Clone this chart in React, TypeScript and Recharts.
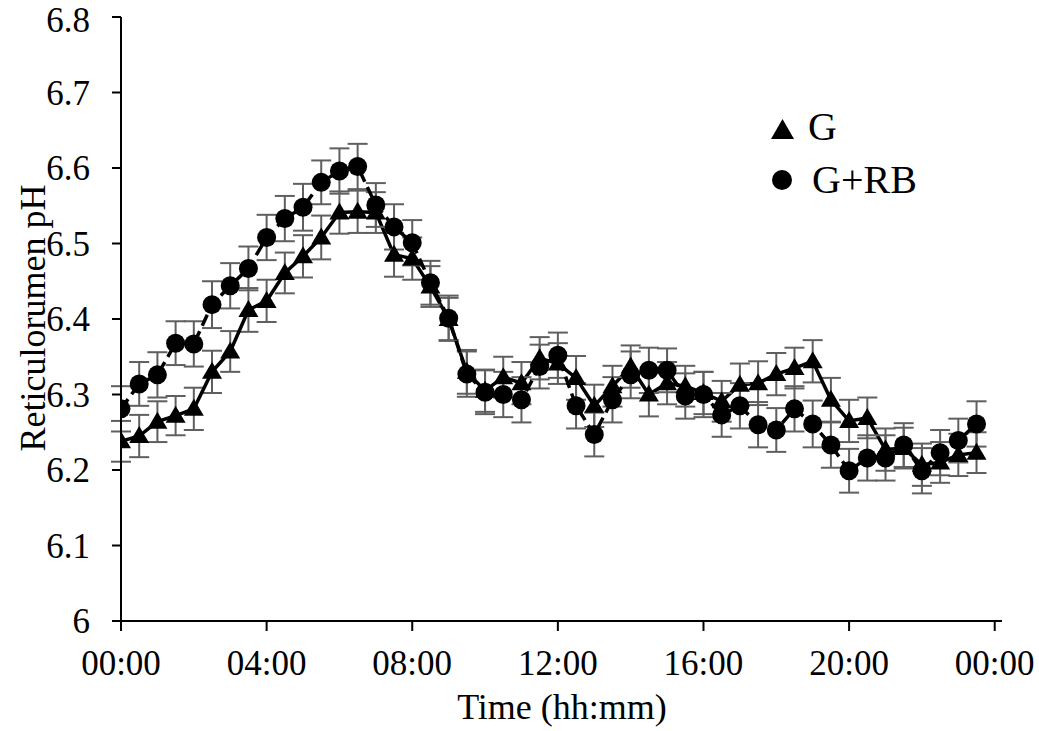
import React from "react";
import { LineChart, Line, XAxis, YAxis, ErrorBar } from "recharts";

// half-hourly readings over 24 h
const hours = [
  0, 0.5, 1, 1.5, 2, 2.5, 3, 3.5, 4, 4.5, 5, 5.5, 6, 6.5, 7, 7.5, 8, 8.5, 9,
  9.5, 10, 10.5, 11, 11.5, 12, 12.5, 13, 13.5, 14, 14.5, 15, 15.5, 16, 16.5,
  17, 17.5, 18, 18.5, 19, 19.5, 20, 20.5, 21, 21.5, 22, 22.5, 23, 23.5,
];

const gPH = [
  6.238, 6.245, 6.264, 6.272, 6.281, 6.33, 6.357, 6.412, 6.424, 6.461, 6.483,
  6.508, 6.541, 6.542, 6.541, 6.485, 6.48, 6.443, 6.4, 6.33, 6.305, 6.323,
  6.315, 6.348, 6.341, 6.322, 6.285, 6.311, 6.337, 6.3, 6.315, 6.311, 6.302,
  6.291, 6.313, 6.315, 6.327, 6.335, 6.344, 6.293, 6.265, 6.269, 6.227, 6.229,
  6.207, 6.21, 6.22, 6.223,
];
const gSE = [
  0.027, 0.028, 0.027, 0.026, 0.028, 0.028, 0.027, 0.029, 0.028, 0.027, 0.028,
  0.029, 0.028, 0.028, 0.027, 0.029, 0.028, 0.027, 0.028, 0.029, 0.028, 0.027,
  0.028, 0.028, 0.027, 0.029, 0.028, 0.027, 0.028, 0.029, 0.028, 0.027, 0.028,
  0.027, 0.028, 0.029, 0.028, 0.027, 0.028, 0.029, 0.028, 0.027, 0.028, 0.027,
  0.028, 0.027, 0.028, 0.027,
];

const rbPH = [
  6.281, 6.314, 6.326, 6.368, 6.367, 6.419, 6.444, 6.467, 6.508, 6.533, 6.548,
  6.581, 6.596, 6.602, 6.551, 6.522, 6.501, 6.448, 6.401, 6.327, 6.303, 6.3,
  6.293, 6.337, 6.352, 6.285, 6.247, 6.293, 6.326, 6.332, 6.332, 6.298, 6.3,
  6.273, 6.285, 6.26, 6.253, 6.281, 6.261, 6.233, 6.199, 6.216, 6.216, 6.233,
  6.199, 6.223, 6.239, 6.261,
];
const rbSE = [
  0.03, 0.029, 0.03, 0.029, 0.03, 0.031, 0.03, 0.029, 0.03, 0.03, 0.031,
  0.029, 0.03, 0.03, 0.029, 0.03, 0.03, 0.029, 0.03, 0.03, 0.029, 0.03, 0.03,
  0.029, 0.03, 0.03, 0.029, 0.03, 0.031, 0.03, 0.029, 0.03, 0.03, 0.029,
  0.03, 0.03, 0.029, 0.03, 0.031, 0.03, 0.029, 0.03, 0.03, 0.029, 0.03, 0.03,
  0.029, 0.03,
];

const xTicks = [0, 4, 8, 12, 16, 20, 24];
const yTicks = [6, 6.1, 6.2, 6.3, 6.4, 6.5, 6.6, 6.7, 6.8];

const data = hours.map((t, i) => ({
  t,
  g: gPH[i],
  gErr: gSE[i],
  rb: rbPH[i],
  rbErr: rbSE[i],
}));

const FONT = '"Liberation Serif", "Times New Roman", serif';

const fmtTime = (h: number) => `${String(h % 24).padStart(2, "0")}:00`;

const Triangle = (props: any) => {
  const { cx, cy, index } = props;
  if (cx == null || cy == null) return <g key={`tri-${index}`} />;
  return (
    <polygon
      key={`tri-${index}`}
      points={`${cx},${cy - 10} ${cx - 10},${cy + 7} ${cx + 10},${cy + 7}`}
      fill="#000"
    />
  );
};

const Dot = (props: any) => {
  const { cx, cy, index } = props;
  if (cx == null || cy == null) return <g key={`dot-${index}`} />;
  return <circle key={`dot-${index}`} cx={cx} cy={cy} r={9.5} fill="#000" />;
};

export default function App() {
  return (
    <div
      style={{
        position: "absolute",
        left: 0,
        top: 0,
        width: 1039,
        height: 731,
        background: "#fff",
        fontFamily: FONT,
        overflow: "hidden",
      }}
    >
      <LineChart
        width={1039}
        height={731}
        data={data}
        margin={{ top: 17, right: 37, left: 21, bottom: 50 }}
      >
        <XAxis
          dataKey="t"
          type="number"
          domain={[0, 24.2]}
          ticks={xTicks}
          tickFormatter={fmtTime}
          allowDataOverflow
          height={60}
          tickSize={10}
          tickMargin={19}
          axisLine={{ stroke: "#000", strokeWidth: 2 }}
          tickLine={{ stroke: "#000", strokeWidth: 2 }}
          tick={{ fill: "#000", fontSize: 35, fontFamily: FONT }}
        />
        <YAxis
          type="number"
          domain={[6, 6.8]}
          ticks={yTicks}
          tickFormatter={(v: number) => String(Math.round(v * 10) / 10)}
          width={100}
          tickSize={9}
          tickMargin={22}
          axisLine={{ stroke: "#000", strokeWidth: 2 }}
          tickLine={{ stroke: "#000", strokeWidth: 2 }}
          tick={{ fill: "#000", fontSize: 35, fontFamily: FONT }}
        />
        <Line
          dataKey="g"
          stroke="#000"
          strokeWidth={3.5}
          dot={Triangle}
          activeDot={false}
          isAnimationActive={false}
        >
          <ErrorBar
            dataKey="gErr"
            direction="y"
            width={10}
            stroke="#5f5f5f"
            strokeWidth={2}
          />
        </Line>
        <Line
          dataKey="rb"
          stroke="#000"
          strokeWidth={3.5}
          strokeDasharray="12 6"
          dot={Dot}
          activeDot={false}
          isAnimationActive={false}
        >
          <ErrorBar
            dataKey="rbErr"
            direction="y"
            width={10}
            stroke="#5f5f5f"
            strokeWidth={2}
          />
        </Line>
      </LineChart>

      {/* legend and axis titles */}
      <svg
        width={1039}
        height={731}
        style={{ position: "absolute", left: 0, top: 0, pointerEvents: "none" }}
      >
        <text
          x={45}
          y={318}
          transform="rotate(-90, 45, 318)"
          textAnchor="middle"
          fontSize={36}
          fontFamily={FONT}
          fill="#000"
        >
          Reticulorumen pH
        </text>
        <text
          x={562}
          y={719}
          textAnchor="middle"
          fontSize={36}
          fontFamily={FONT}
          fill="#000"
        >
          Time (hh:mm)
        </text>
        <polygon points="771,139 794,139 782.5,119" fill="#000" />
        <text x={808} y={140} fontSize={40} fontFamily={FONT} fill="#000">
          G
        </text>
        <circle cx={782} cy={180} r={10} fill="#000" />
        <text x={812} y={193} fontSize={40} fontFamily={FONT} fill="#000">
          G+RB
        </text>
      </svg>
    </div>
  );
}
